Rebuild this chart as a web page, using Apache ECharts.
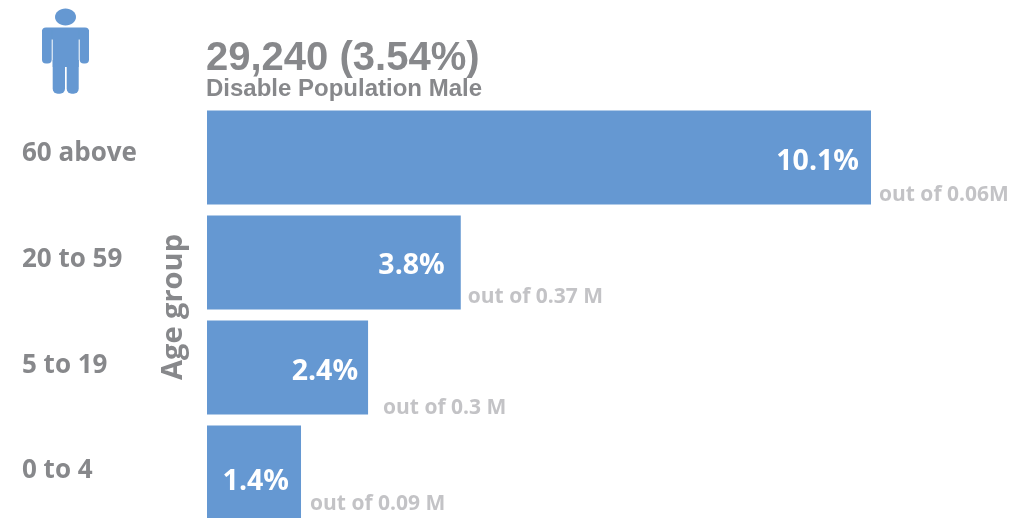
<!DOCTYPE html>
<html>
<head>
<meta charset="utf-8">
<style>html,body{margin:0;padding:0;background:#fff}#c{width:1027px;height:518px}</style>
<script src="https://cdn.jsdelivr.net/npm/echarts@6/dist/echarts.min.js"></script>
</head>
<body>
<div id="c"></div>
<script>
const categories = ['60 above', '20 to 59', '5 to 19', '0 to 4'];
const barValues = [10.1, 3.86, 2.45, 1.43];
const valueLabels = ['10.1%', '3.8%', '2.4%', '1.4%'];
const noteLabels = ['out of 0.06M', 'out of 0.37 M', 'out of 0.3 M', 'out of 0.09 M'];
const headline = '29,240 (3.54%)';
const subhead = 'Disable Population Male';
const axisTitle = 'Age group';

const labelFont = '"Open Sans", "Noto Sans", sans-serif';
const grey = '#87888b', lightGrey = '#b4b4b8', blue = '#6598d2';
const valueOffsets = [[0, 4], [-4, 3], [2, 4], [0, 9]];
const noteOffsets = [[3, 38], [2, 35], [10, 41], [4, 32]];
const catLift = [8, 6, 4, 4];

const chart = echarts.init(document.getElementById('c'), null, {renderer: 'canvas'});
chart.setOption({
  animation: false,
  backgroundColor: '#fff',
  title: {
    text: headline, subtext: subhead, left: 201, top: 34, itemGap: -2,
    textStyle: {fontFamily: '"Liberation Sans"', fontWeight: 'bold', fontSize: 40, color: grey, lineHeight: 40},
    subtextStyle: {fontFamily: '"Liberation Sans"', fontWeight: 'bold', fontSize: 24, color: grey, lineHeight: 24}
  },
  grid: {left: 207, top: 105, width: 664, height: 420, containLabel: false, outerBoundsMode: 'none'},
  xAxis: {type: 'value', min: 0, max: 10.1, show: false},
  yAxis: {
    type: 'category', inverse: true,
    data: categories.map((c, i) => ({value: c, textStyle: {align: 'left', verticalAlign: 'bottom', lineHeight: catLift[i]}})),
    axisLine: {show: false}, axisTick: {show: false},
    axisLabel: {align: 'left', margin: 185, fontFamily: labelFont, fontWeight: 'bold', fontSize: 26, color: grey},
    name: axisTitle, nameLocation: 'middle', nameGap: 19, nameRotate: 90, nameMoveOverlap: false,
    nameTruncate: {maxWidth: 400},
    nameTextStyle: {fontFamily: labelFont, fontWeight: 'bold', fontSize: 29, color: grey, padding: [0, 0, 0, 16]}
  },
  graphic: [
    {type: 'ellipse', shape: {cx: 65.5, cy: 17, rx: 10.5, ry: 8.5}, style: {fill: blue}},
    {type: 'rect', shape: {x: 42, y: 27.5, width: 47, height: 12, r: [4, 4, 0, 0]}, style: {fill: blue}},
    {type: 'rect', shape: {x: 42, y: 30, width: 9.7, height: 33.5, r: [0, 0, 4, 4]}, style: {fill: blue}},
    {type: 'rect', shape: {x: 79.7, y: 30, width: 9.3, height: 33.5, r: [0, 0, 4, 4]}, style: {fill: blue}},
    {type: 'rect', shape: {x: 52.7, y: 30, width: 26, height: 37}, style: {fill: blue}},
    {type: 'rect', shape: {x: 52.7, y: 60, width: 12.3, height: 33.8, r: [0, 0, 5, 5]}, style: {fill: blue}},
    {type: 'rect', shape: {x: 66.7, y: 60, width: 12, height: 33.8, r: [0, 0, 5, 5]}, style: {fill: blue}}
  ],
  series: [
    {
      type: 'bar', barWidth: 94,
      itemStyle: {color: blue},
      data: barValues.map((v, i) => ({
        value: v,
        label: {
          show: true, position: 'insideRight', distance: 12, offset: valueOffsets[i],
          formatter: valueLabels[i], fontFamily: labelFont, fontWeight: 'bold', fontSize: 28.5, color: '#fff'
        }
      }))
    },
    {
      type: 'scatter', symbolSize: 0, silent: true,
      data: barValues.map((v, i) => ({
        value: [v, i],
        label: {
          show: true, position: 'right', distance: 5, offset: noteOffsets[i],
          formatter: noteLabels[i], fontFamily: labelFont, fontWeight: 'bold', fontSize: 21, color: lightGrey
        }
      }))
    }
  ]
});
</script>
</body>
</html>
